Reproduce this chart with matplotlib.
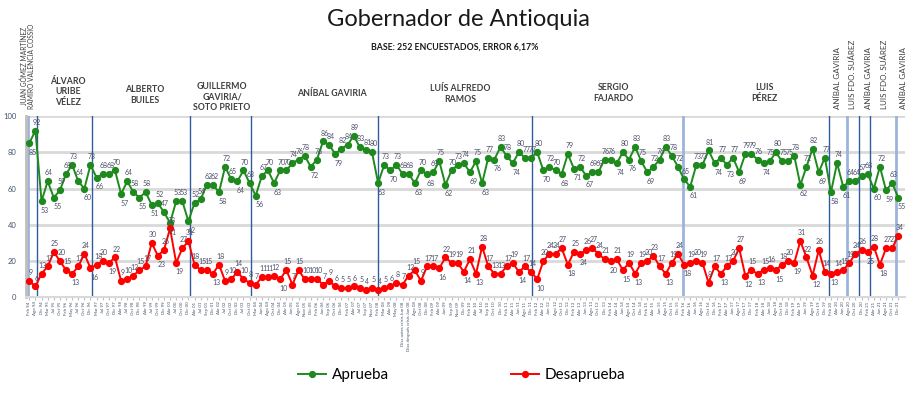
import matplotlib
matplotlib.use("Agg")
import matplotlib.pyplot as plt
import matplotlib.transforms as mtransforms
from matplotlib.lines import Line2D

plt.rcParams['font.family'] = ['Lato', 'DejaVu Sans']

# approval / disapproval (%) per poll
aprueba = [85, 92, 53, 64, 55, 59, 68, 73, 64, 60, 73,
           66, 68, 68, 70, 57, 64, 58, 55, 58, 51, 52, 47, 41, 53, 53, 42,
           52, 54, 62, 62, 58, 72, 65, 64, 70, 63,
           56, 67, 70, 63, 70, 70, 74, 76, 78, 72, 76, 86, 84, 79, 82, 84, 89, 83, 81, 80,
           63, 73, 70, 73, 68, 68, 63, 70, 68, 69, 75, 62, 70, 73, 74, 69, 75, 63, 77, 76,
           83, 78, 74, 80, 77, 77,
           80, 70, 72, 70, 68, 79, 71, 72, 67, 69, 69, 76, 76, 74, 80, 76, 83, 75, 69, 72,
           76, 83, 78, 72,
           65, 61, 73, 73, 81, 74, 77, 73, 77, 69, 79, 79, 76, 74, 75, 80, 75, 75, 78, 62,
           72, 82, 69, 77,
           58, 74, 61, 64, 64, 67, 68, 60, 72, 59, 63, 55]
desaprueba = [9, 6, 13, 17, 25, 20, 15, 13, 17, 24, 16,
              18, 20, 19, 22, 9, 10, 12, 15, 17, 30, 23, 26, 38, 19, 27, 31,
              18, 15, 15, 13, 18, 9, 10, 14, 10, 8,
              7, 11, 11, 12, 10, 15, 7, 15, 10, 10, 10, 7, 9, 6, 5, 5, 6, 5, 4, 5,
              4, 5, 6, 8, 7, 12, 15, 9, 17, 17, 16, 22, 19, 19, 14, 21, 13, 28, 17, 13,
              13, 17, 19, 14, 17, 14,
              10, 20, 24, 24, 27, 18, 25, 24, 26, 27, 24, 21, 20, 21, 15, 19, 13, 19, 20, 23,
              17, 13, 19, 24,
              18, 19, 20, 19, 8, 17, 13, 17, 20, 27, 12, 15, 13, 15, 16, 15, 18, 20, 19, 31,
              22, 12, 26, 14,
              13, 14, 15, 19, 24, 26, 25, 28, 18, 27, 27, 34]

fechas = ['Feb 94', 'Ago 94', 'Dic 94', 'Mar 95', 'Jul 95', 'Oct 95', 'Feb 96', 'May 96', 'Jul 96', 'Oct 96', 'Dic 96',
          'Mar 97', 'Jul 97', 'Oct 97', 'Dic 97', 'Abr 98', 'Jul 98', 'Oct 98', 'Dic 98', 'Abr 99', 'Jul 99',
          'Oct 99', 'Dic 99', 'Abr 00', 'Jul 00', 'Oct 00', 'Dic 00',
          'Abr 01', 'Jul 01', 'Sep 01', 'Dic 01', 'Abr 02', 'Jul 02', 'Oct 02', 'Dic 02', 'Jul 03', 'Oct 03',
          'Mar 04', 'Jun 04', 'Ago 04', 'Oct 04', 'Dic 04', 'Abr 05', 'Jun 05', 'Ago 05', 'Nov 05', 'Dic 05',
          'Feb 06', 'Jun 06', 'Sep 06', 'Oct 06', 'Dic 06', 'Feb 07', 'Abr 07', 'Jul 07', 'Sep 07', 'Nov 07',
          'Feb 08', 'Mar 08', 'Abr 08', 'May 08', 'Días antes crisis Jun 08', 'Días después crisis Jun 08',
          'Ago 08', 'Oct 08', 'Dic 08', 'Feb 09', 'Abr 09', 'Jun 09', 'Sep 09', 'Nov 09', 'Dic 09', 'Feb 10',
          'Abr 10', 'Jul 10', 'Sep 10', 'Oct 10', 'Dic 10', 'Feb 11', 'Abr 11', 'Jun 11', 'Ago 11', 'Dic 11',
          'Feb 12', 'Abr 12', 'Jun 12', 'Ago 12', 'Oct 12', 'Dic 12', 'Feb 13', 'Abr 13', 'Jun 13', 'Ago 13',
          'Oct 13', 'Dic 13', 'Feb 14', 'Abr 14', 'Jun 14', 'Ago 14', 'Oct 14', 'Dic 14', 'Feb 15', 'Abr 15',
          'Jun 15', 'Ago 15', 'Oct 15', 'Dic 15',
          'Feb 16', 'Abr 16', 'Jun 16', 'Ago 16', 'Oct 16', 'Dic 16', 'Feb 17', 'Abr 17', 'Jun 17', 'Ago 17',
          'Oct 17', 'Dic 17', 'Feb 18', 'Abr 18', 'Jun 18', 'Ago 18', 'Oct 18', 'Dic 18', 'Feb 19', 'Abr 19',
          'Jun 19', 'Ago 19', 'Oct 19', 'Dic 19',
          'Feb 20', 'Abr 20', 'Jun 20', 'Ago 20', 'Oct 20', 'Dic 20', 'Feb 21', 'Abr 21', 'Jun 21', 'Ago 21',
          'Oct 21', 'Dic 21']

# governor changes (position between polls, light = thick pale line)
cortes = [-0.15, 1.3, 10.3, 26.3, 36.3, 56.9, 82.2, 106.8, 130.7, 133.6, 135.6, 137.3, 141.7]
cortes_claros = [True, False, False, False, False, False, False, True, False, True, False, False, True]

gobernadores = ['ÁLVARO\nURIBE\nVÉLEZ', 'ALBERTO\nBUILES', 'GUILLERMO\nGAVIRIA/\nSOTO PRIETO',
                'ANÍBAL GAVIRIA', 'LUÍS ALFREDO\nRAMOS', 'SERGIO\nFAJARDO', 'LUIS\nPÉREZ']
gob_pos = [6.3, 18.9, 31.5, 49.5, 70.4, 95.4, 120.2]
gob_y = [92, 95, 97, 94, 94, 93, 93]

gob_vert = ['JUAN GÓMEZ MARTÍNEZ\nRAMIRO VALENCIA COSSIO', 'ANÍBAL GAVIRIA', 'LUIS FDO. SUÁREZ',
            'ANÍBAL GAVIRIA', 'LUIS FDO. SUÁREZ', 'ANÍBAL GAVIRIA']
gob_vert_pos = [-0.2, 132.0, 134.6, 137.2, 139.8, 142.8]
gob_vert_size = [4.8, 5.8, 5.8, 5.8, 5.8, 5.8]

W, H = 912, 398
fig = plt.figure(figsize=(W / 100, H / 100), dpi=100)
ax = fig.add_axes([26 / W, (H - 297.3) / H, 879 / W, 181.3 / H])

x = list(range(len(aprueba)))
verde = '#1E8A1E'
rojo = '#FF0000'
ax.plot(x, aprueba, color=verde, lw=1.4, marker='o', ms=4.2, zorder=3)
ax.plot(x, desaprueba, color=rojo, lw=1.4, marker='o', ms=4.2, zorder=3)

ax.set_xlim(-0.54, 143.1)
ax.set_ylim(0, 100)
ax.set_yticks([0, 20, 40, 60, 80, 100])
ax.yaxis.grid(True, color='#D9D9D9', lw=2)
ax.set_axisbelow(True)
for s in ['top', 'right']:
    ax.spines[s].set_visible(False)
ax.spines['left'].set_color('#BFBFBF')
ax.spines['left'].set_linewidth(2)
ax.spines['bottom'].set_color('#D9D9D9')
ax.spines['bottom'].set_linewidth(1.5)
ax.tick_params(axis='y', length=0, labelsize=5.5, labelcolor='#44546A', pad=7)
ax.set_xticks(x)
ax.set_xticklabels(fechas, rotation=90, fontsize=3.2, color='#44546A')
ax.tick_params(axis='x', length=2, color='#BFBFBF', pad=1)

for c, claro in zip(cortes, cortes_claros):
    if claro:
        ax.axvline(c, color='#9DB4DA', lw=2, zorder=2)
    else:
        ax.axvline(c, color='#2F5C9E', lw=1, zorder=2)

# value labels: below-right of the point at local minima, above otherwise
for serie in (aprueba, desaprueba):
    n = len(serie)
    for i, v in enumerate(serie):
        prev = serie[i - 1] if i > 0 else v + 1
        nxt = serie[i + 1] if i < n - 1 else v + 1
        abajo = v < prev and v < nxt and v >= 10
        if abajo:
            ax.annotate(str(v), (i, v), xytext=(2.5, -4), textcoords='offset points',
                        ha='center', va='top', fontsize=5, color='#4A5068')
        else:
            ax.annotate(str(v), (i, v), xytext=(1, 3.5), textcoords='offset points',
                        ha='center', va='bottom', fontsize=5, color='#4A5068')

trans = mtransforms.blended_transform_factory(ax.transData, fig.transFigure)
for t, px, py in zip(gobernadores, gob_pos, gob_y):
    ax.text(px, 1 - py / H, t, transform=trans, ha='center', va='center', fontsize=6.3,
            fontweight='bold', color='#404040', linespacing=1.15)
for t, px, fs in zip(gob_vert, gob_vert_pos, gob_vert_size):
    ax.text(px, 1 - 109 / H, t, transform=trans, ha='center', va='bottom', rotation=90,
            fontsize=fs, color='#404040', linespacing=1.05)

fig.text(458 / W, 1 - 20 / H, 'Gobernador de Antioquia', ha='center', va='center', fontsize=17, color='#1A1A1A')
fig.text(455 / W, 1 - 47 / H, 'BASE: 252 ENCUESTADOS, ERROR 6,17%', ha='center', va='center',
         fontsize=6.3, fontweight='bold', color='#1A1A1A')

handles = [Line2D([], [], color=verde, lw=1.4, marker='o', ms=4.2),
           Line2D([], [], color=rojo, lw=1.4, marker='o', ms=4.2)]
fig.legend(handles, ['Aprueba', 'Desaprueba'], loc='center', bbox_to_anchor=(462 / W, 1 - 375 / H),
           ncol=2, frameon=False, fontsize=11, handlelength=1.8, columnspacing=8, handletextpad=0.4)

fig.savefig('out.png', dpi=100)
